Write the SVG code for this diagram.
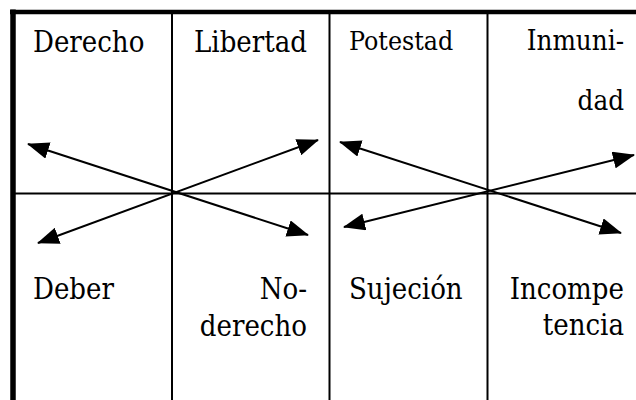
<svg xmlns="http://www.w3.org/2000/svg" width="636" height="400" viewBox="0 0 636 400">
<style>
.t{font-family:"DejaVu Serif Condensed","DejaVu Serif","Liberation Serif",serif;font-size:29px;fill:#000}
.e{text-anchor:end}
.grid{stroke:#000;fill:none}
.arr{stroke:#000;stroke-width:2;fill:none;marker-start:url(#ah);marker-end:url(#ah)}
</style>
<defs>
<marker id="ah" viewBox="0 0 22 17" refX="21" refY="8.5" markerWidth="22" markerHeight="17" markerUnits="userSpaceOnUse" orient="auto-start-reverse">
<path d="M0,0 L22,8.5 L0,17 Z" fill="#000"/>
</marker>
</defs>
<rect width="636" height="400" fill="#fff"/>
<g id="table">
<line class="grid" x1="13" y1="9.5" x2="13" y2="400" stroke-width="5.5"/>
<line class="grid" x1="10" y1="12" x2="636" y2="12" stroke-width="4.5"/>
<line class="grid" x1="172" y1="12" x2="172" y2="400" stroke-width="2"/>
<line class="grid" x1="329.5" y1="12" x2="329.5" y2="400" stroke-width="2"/>
<line class="grid" x1="487.5" y1="12" x2="487.5" y2="400" stroke-width="2"/>
<line class="grid" x1="13" y1="193.5" x2="636" y2="193.5" stroke-width="2"/>
</g>
<g id="derecho"><text class="t" x="33" y="52">Derecho</text></g>
<g id="libertad"><text class="t" x="194" y="52">Libertad</text></g>
<g id="potestad"><text class="t" x="349" y="50" style="font-size:26.5px">Potestad</text></g>
<g id="inmunidad"><text class="t e" x="624" y="50" style="font-size:27.5px">Inmuni-</text><text class="t e" x="624" y="110" style="font-size:27.5px">dad</text></g>
<g id="deber"><text class="t" x="33" y="299">Deber</text></g>
<g id="no-derecho"><text class="t e" x="307" y="299">No-</text><text class="t e" x="307" y="336">derecho</text></g>
<g id="sujecion"><text class="t" x="349" y="299">Sujeción</text></g>
<g id="incompetencia"><text class="t e" x="624" y="299">Incompe</text><text class="t e" x="624" y="335">tencia</text></g>
<g id="connectors">
<line class="arr" x1="28" y1="144" x2="308" y2="235"/>
<line class="arr" x1="38" y1="243" x2="318" y2="140"/>
<line class="arr" x1="340" y1="142" x2="621" y2="233"/>
<line class="arr" x1="344" y1="227" x2="634" y2="155"/>
</g>
</svg>
